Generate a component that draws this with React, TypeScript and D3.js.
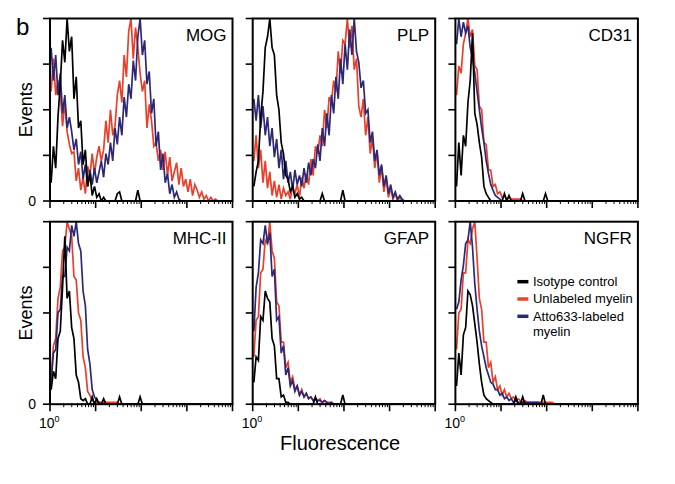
import React from "react";
import * as d3 from "d3";

// channels per decade of the log fluorescence axis
const BINS_PER_DECADE = 20;

const panelTitles = ["MOG", "PLP", "CD31", "MHC-II", "GFAP", "NGFR"];
const seriesNames = ["Unlabeled myelin", "Atto633-labeled myelin", "Isotype control"];
const seriesColors = ["#e8402a", "#2c2878", "#000000"];
const legendLabels = ["Isotype control", "Unlabeled myelin", "Atto633-labeled", "myelin"];

// % of max events per channel
const mogUnlabeled = [60, 78, 58, 66, 60, 41, 54, 38, 31, 26, 27, 11, 18, 6, 13, 4, 19, 14, 26, 15, 24, 30, 22, 28, 44, 32, 50, 36, 41, 58, 66, 54, 80, 68, 93, 100, 78, 95, 84, 70, 60, 66, 40, 53, 44, 30, 32, 22, 28, 17, 27, 14, 24, 11, 16, 21, 9, 18, 8, 12, 5, 12, 3, 9, 6, 2, 5, 1, 3, 0, 2, 0, 1, 0, 0];
const mogAtto = [84, 66, 80, 58, 70, 48, 58, 40, 46, 38, 28, 34, 20, 27, 12, 20, 8, 17, 9, 18, 10, 16, 22, 13, 26, 20, 32, 22, 40, 31, 46, 36, 57, 46, 64, 56, 77, 66, 90, 100, 80, 88, 64, 71, 48, 56, 30, 38, 17, 26, 10, 15, 4, 9, 2, 5, 1, 0];
const mogIsotype = [10, 30, 18, 46, 64, 88, 76, 100, 82, 90, 56, 68, 40, 44, 20, 28, 8, 15, 3, 8, 2, 4, 0, 2, 0, 0, 0, 0, 0, 4, 5, 0, 0, 0, 0, 0, 0, 0, 6, 0];

const plpUnlabeled = [22, 36, 18, 28, 10, 22, 7, 16, 3, 11, 2, 9, 1, 7, 3, 5, 1, 8, 4, 9, 2, 13, 7, 15, 9, 23, 14, 30, 26, 36, 30, 50, 40, 57, 54, 66, 60, 82, 70, 88, 86, 100, 84, 96, 72, 78, 52, 46, 56, 36, 46, 26, 35, 18, 27, 10, 19, 5, 13, 2, 7, 1, 4, 0, 2, 0];
const plpAtto = [56, 44, 58, 40, 52, 36, 46, 30, 40, 24, 34, 18, 28, 12, 22, 10, 16, 6, 17, 9, 14, 8, 18, 10, 21, 14, 23, 18, 31, 22, 40, 30, 48, 36, 58, 48, 68, 56, 78, 64, 86, 72, 94, 80, 100, 82, 76, 62, 66, 48, 50, 32, 38, 22, 28, 14, 20, 8, 14, 4, 9, 2, 5, 1, 3, 1, 0];
const plpIsotype = [8, 16, 22, 46, 60, 84, 90, 100, 84, 80, 58, 50, 32, 26, 14, 12, 5, 8, 2, 4, 1, 2, 0, 0, 0, 0, 0, 0, 0, 0, 4, 0, 0, 0, 0, 0, 0, 0, 0, 6, 0];

const cd31Unlabeled = [58, 74, 70, 86, 92, 100, 90, 94, 74, 72, 52, 50, 32, 31, 17, 17, 8, 9, 4, 5, 2, 3, 1, 2, 1, 1, 1, 1, 1, 0];
const cd31Atto = [86, 100, 90, 98, 92, 96, 84, 78, 70, 60, 50, 40, 32, 22, 15, 9, 6, 3, 2, 1, 0];
const cd31Isotype = [8, 32, 14, 36, 30, 54, 66, 92, 48, 42, 32, 24, 8, 4, 2, 0, 0, 0, 0, 0, 0, 4, 0, 3, 0, 0, 0, 0, 0, 4, 0, 0, 0, 0, 0, 0, 0, 0, 0, 4, 0];

const mhcUnlabeled = [16, 32, 36, 58, 64, 84, 86, 100, 96, 92, 70, 68, 50, 46, 26, 20, 7, 5, 2, 1, 1, 1, 1, 1, 1, 1, 1, 1, 1, 1, 0];
const mhcAtto = [12, 28, 30, 50, 52, 70, 70, 86, 84, 98, 92, 100, 88, 84, 62, 54, 30, 22, 8, 4, 2, 1, 0];
const mhcIsotype = [8, 18, 14, 36, 40, 64, 92, 58, 62, 42, 36, 16, 12, 3, 2, 3, 0, 0, 4, 0, 3, 0, 0, 3, 0, 0, 0, 0, 0, 0, 4, 0, 0, 0, 0, 0, 0, 0, 0, 4, 0];

const gfapUnlabeled = [26, 46, 48, 72, 74, 90, 88, 100, 84, 80, 56, 54, 34, 34, 20, 23, 12, 15, 8, 10, 5, 8, 4, 6, 3, 4, 2, 3, 2, 3, 1, 2, 1, 1, 1, 0];
const gfapAtto = [40, 64, 72, 90, 88, 98, 88, 94, 70, 74, 46, 48, 28, 32, 16, 20, 10, 13, 7, 10, 5, 7, 4, 6, 3, 4, 2, 3, 2, 2, 1, 2, 1, 0, 1, 0];
const gfapIsotype = [12, 26, 24, 48, 46, 62, 58, 56, 36, 32, 14, 14, 4, 5, 1, 1, 0, 0, 0, 0, 0, 0, 0, 0, 0, 0, 0, 4, 0, 0, 0, 0, 0, 0, 0, 0, 0, 0, 0, 5, 0];

const ngfrUnlabeled = [30, 50, 52, 72, 72, 90, 88, 96, 100, 80, 58, 52, 34, 34, 20, 23, 12, 15, 8, 10, 5, 8, 4, 6, 3, 4, 2, 3, 2, 1, 2, 1, 1, 1, 1, 1, 1, 1, 1, 1, 1, 1, 1, 0];
const ngfrAtto = [52, 56, 68, 76, 88, 90, 100, 86, 66, 52, 40, 32, 26, 20, 16, 12, 11, 8, 8, 5, 6, 3, 4, 2, 3, 1, 2, 1, 1, 1, 1, 1, 1, 1, 1, 1, 1, 0];
const ngfrIsotype = [10, 28, 16, 38, 42, 62, 60, 54, 44, 34, 22, 12, 5, 3, 2, 1, 0, 0, 0, 0, 0, 0, 0, 0, 0, 0, 4, 0, 0, 4, 0, 0, 0, 0, 0, 0, 0, 0, 5, 0];

const panelData = [
  [mogUnlabeled, mogAtto, mogIsotype],
  [plpUnlabeled, plpAtto, plpIsotype],
  [cd31Unlabeled, cd31Atto, cd31Isotype],
  [mhcUnlabeled, mhcAtto, mhcIsotype],
  [gfapUnlabeled, gfapAtto, gfapIsotype],
  [ngfrUnlabeled, ngfrAtto, ngfrIsotype],
];

const W = 675;
const H = 484;
const pw = 182.5;
const ph = 182.5;
const left0 = 50;
const colStep = 202.7;
const top0 = 18.5;
const rowStep = 203.2;
const font = "'Liberation Sans', Arial, Helvetica, sans-serif";

const x = d3.scaleLog().domain([1, 10000]).range([0, pw]);
const y = d3.scaleLinear().domain([0, 100]).range([ph, 0]);
const line = d3
  .line<[number, number]>()
  .x((d) => x(d[0]))
  .y((d) => y(d[1]));

const majorTicks = [1, 10, 100, 1000, 10000];
const minorTicks = d3.range(0, 4).flatMap((k) => d3.range(2, 10).map((m) => m * Math.pow(10, k)));
const yTicks = [0, 25, 50, 75, 100];

function toPoints(values: number[]): [number, number][] {
  const pts = values.map((v, i) => [Math.pow(10, (i + 0.5) / BINS_PER_DECADE), v] as [number, number]);
  pts.push([10000, 0]);
  return pts;
}

function Panel({ idx }: { idx: number }) {
  const col = idx % 3;
  const row = Math.floor(idx / 3);
  const tx = left0 + col * colStep;
  const ty = top0 + row * rowStep;
  const clipId = `clip-${idx}`;
  return (
    <g transform={`translate(${tx},${ty})`}>
      <clipPath id={clipId}>
        <rect x={0} y={0} width={pw} height={ph} />
      </clipPath>
      <g clipPath={`url(#${clipId})`}>
        {panelData[idx].map((vals, s) => (
          <path
            key={seriesNames[s]}
            d={line(toPoints(vals)) || ""}
            fill="none"
            stroke={seriesColors[s]}
            strokeWidth={1.7}
          />
        ))}
      </g>
      <rect x={0} y={0} width={pw} height={ph} fill="none" stroke="#000" strokeWidth={2} />
      {yTicks.map((t) => (
        <line key={t} x1={-7} x2={0} y1={y(t)} y2={y(t)} stroke="#000" strokeWidth={1.6} />
      ))}
      {majorTicks.map((t) => (
        <line key={t} x1={x(t)} x2={x(t)} y1={ph} y2={ph + 7} stroke="#000" strokeWidth={1.6} />
      ))}
      {minorTicks.map((t) => (
        <line key={t} x1={x(t)} x2={x(t)} y1={ph - 1} y2={ph + 3} stroke="#000" strokeWidth={1} />
      ))}
      <text x={pw - 6} y={22} textAnchor="end" fontSize={17} fontFamily={font}>
        {panelTitles[idx]}
      </text>
      {col === 0 && (
        <>
          <text x={-14} y={ph + 5} textAnchor="end" fontSize={14} fontFamily={font}>
            0
          </text>
          <text
            transform={`translate(${-18},${ph / 2}) rotate(-90)`}
            textAnchor="middle"
            fontSize={18}
            fontFamily={font}
          >
            Events
          </text>
        </>
      )}
      {row === 1 && (
        <text x={-11} y={ph + 24} fontSize={14} fontFamily={font}>
          10
          <tspan dy={-6} fontSize={9}>
            0
          </tspan>
        </text>
      )}
      {idx === 5 && (
        <g transform="translate(62,60)">
          {[2, 0, 1].map((s, i) => (
            <line key={s} x1={0} x2={11} y1={i * 17.3} y2={i * 17.3} stroke={seriesColors[s]} strokeWidth={3.5} />
          ))}
          {legendLabels.map((lab, i) => (
            <text key={lab} x={15.5} y={(i < 3 ? i * 17.3 : 2 * 17.3 + 15) + 4.5} fontSize={13} fontFamily={font}>
              {lab}
            </text>
          ))}
        </g>
      )}
    </g>
  );
}

export default function App() {
  return (
    <svg
      width={W}
      height={H}
      style={{ position: "absolute", left: 0, top: 0, background: "#fff" }}
    >
      <rect width={W} height={H} fill="#fff" />
      <text x={16} y={35} fontSize={24} fontFamily={font}>
        b
      </text>
      {panelTitles.map((t, i) => (
        <Panel key={t} idx={i} />
      ))}
      <text x={340} y={450} textAnchor="middle" fontSize={20} fontFamily={font}>
        Fluorescence
      </text>
    </svg>
  );
}
